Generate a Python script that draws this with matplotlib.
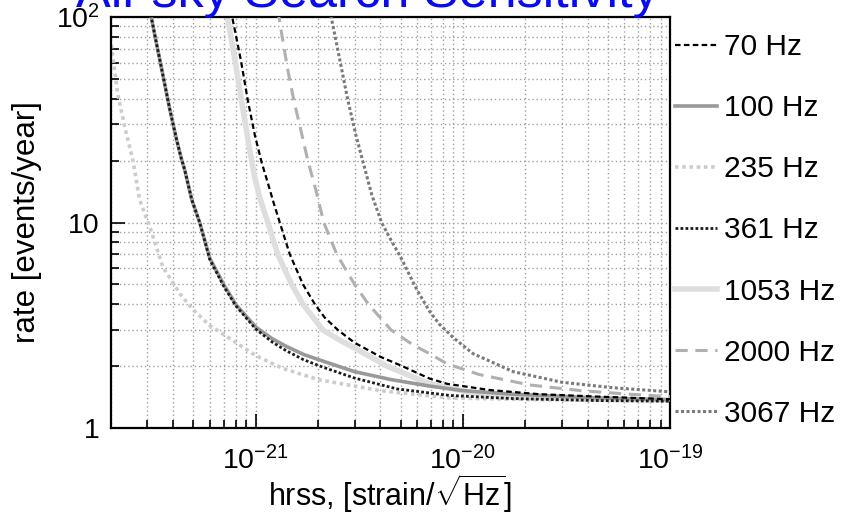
import matplotlib
matplotlib.use("Agg")
import matplotlib.pyplot as plt
import numpy as np
from matplotlib.ticker import FixedLocator, FixedFormatter, LogLocator, NullFormatter

plt.rcParams['font.family'] = ['Liberation Sans', 'DejaVu Sans']
plt.rcParams['mathtext.fontset'] = 'custom'
plt.rcParams['mathtext.rm'] = 'Liberation Sans'
plt.rcParams['mathtext.it'] = 'Liberation Sans'
plt.rcParams['mathtext.default'] = 'regular'

# hrss values in units of 1e-21 strain/sqrt(Hz), rate in events/year
h_70 = [0.757, 0.792, 0.847, 0.915, 0.989, 1.069, 1.143, 1.222, 1.306, 1.46, 1.69, 1.93,
        2.15, 2.49, 3.0, 4.0, 5.1, 6.9, 8.4, 13.5, 23.5, 46, 100]
r_70 = [108.2, 86.5, 61.8, 39.4, 26.7, 19.5, 15.6, 12.4, 10.0, 7.0, 5.0, 4.0,
        3.45, 3.0, 2.6, 2.22, 2.0, 1.74, 1.64, 1.53, 1.46, 1.42, 1.38]

h_100 = [0.308, 0.329, 0.356, 0.385, 0.415, 0.437, 0.454, 0.491, 0.536, 0.6, 0.7, 0.8,
         1.0, 1.2, 1.4, 1.7, 2.1, 3.0, 4.5, 6.9, 10, 17.5, 46, 100]
r_100 = [108.2, 77.3, 52.2, 35.3, 25.2, 20.5, 18.0, 12.9, 10.0, 6.7, 5.0, 4.0,
         3.1, 2.72, 2.5, 2.28, 2.12, 1.88, 1.72, 1.6, 1.52, 1.46, 1.40, 1.37]

h_235 = [0.201, 0.215, 0.233, 0.255, 0.275, 0.315, 0.356, 0.43, 0.5, 0.6, 0.7,
         1.0, 1.35, 2.0, 4.0, 8.65, 26.3, 100]
r_235 = [73.1, 42.7, 29.2, 20.1, 12.9, 8.89, 6.07, 4.5, 3.75, 3.15, 2.85,
         2.25, 1.95, 1.72, 1.52, 1.40, 1.37, 1.37]

h_361 = [0.308, 0.329, 0.356, 0.385, 0.415, 0.437, 0.454, 0.491, 0.536, 0.6, 0.7, 0.8,
         1.0, 1.2, 1.4, 1.7, 2.1, 3.0, 4.8, 8.65, 17.5, 46, 100]
r_361 = [108.2, 77.3, 52.2, 35.3, 25.2, 20.5, 18.0, 12.9, 10.0, 6.6, 4.9, 3.94,
         3.03, 2.62, 2.38, 2.15, 1.98, 1.75, 1.55, 1.44, 1.39, 1.36, 1.35]

h_1053 = [0.716, 0.741, 0.801, 0.865, 0.935, 0.989, 1.045, 1.143, 1.277, 1.49, 1.69,
          2.11, 2.5, 3.0, 4.3, 6.9, 11.2, 17.5, 36.7, 100]
r_1053 = [108.2, 91.4, 58.4, 36.1, 22.5, 16.5, 13.2, 10.0, 7.0, 5.0, 4.0,
          3.0, 2.7, 2.45, 2.0, 1.64, 1.48, 1.43, 1.38, 1.37]

h_2000 = [1.277, 1.349, 1.428, 1.526, 1.650, 1.782, 1.950, 2.13, 2.46, 3.0, 3.5,
          4.5, 5.7, 6.9, 8.4, 12, 21, 37, 64, 100]
r_2000 = [108.2, 77.3, 55.2, 39.4, 28.2, 20.1, 14.4, 10.0, 7.0, 5.0, 4.0,
          3.0, 2.55, 2.3, 2.05, 1.82, 1.62, 1.52, 1.46, 1.42]

h_3067 = [2.276, 2.408, 2.574, 2.783, 3.042, 3.324, 3.635, 4.05, 4.5, 5.0, 6.0,
          6.9, 7.7, 9.0, 11.2, 17.5, 30, 53, 100]
r_3067 = [108.2, 81.7, 58.4, 39.4, 26.7, 19.05, 13.6, 10.0, 8.2, 6.8, 4.7,
          3.7, 3.2, 2.75, 2.3, 1.88, 1.67, 1.57, 1.50]

labels = ['70 Hz', '100 Hz', '235 Hz', '361 Hz', '1053 Hz', '2000 Hz', '3067 Hz']
x_ticks = [1e-21, 1e-20, 1e-19]
x_ticklabels = ['$10^{-21}$', '$10^{-20}$', '$10^{-19}$']
y_ticks = [1, 10, 100]
y_ticklabels = ['1', '10', '$10^{2}$']

series = [(h_70, r_70), (h_100, r_100), (h_235, r_235), (h_361, r_361),
          (h_1053, r_1053), (h_2000, r_2000), (h_3067, r_3067)]
styles = [
    dict(color='black', lw=1.6, ls=(0, (2.5, 1.5))),
    dict(color='#999999', lw=2.6, ls='-'),
    dict(color='#cccccc', lw=2.6, ls=(0, (1, 1))),
    dict(color='#1a1a1a', lw=2.0, ls=(0, (1, 0.8))),
    dict(color='#dedede', lw=4.0, ls='-'),
    dict(color='#b0b0b0', lw=2.2, ls=(0, (4, 2.5))),
    dict(color='#7a7a7a', lw=2.2, ls=(0, (1, 0.8))),
]
zorders = [6, 3, 2, 5, 1, 4, 4]

fig = plt.figure(figsize=(8.46, 5.16), dpi=100)
ax = fig.add_axes([111/846, 1-428/516, (670-111)/846, (428-17)/516])

lines = []
for (h, r), st, lab, z in zip(series, styles, labels, zorders):
    ln, = ax.plot(np.array(h) * 1e-21, r, label=lab, zorder=z, **st)
    lines.append(ln)

ax.set_xscale('log')
ax.set_yscale('log')
ax.set_xlim(2.0e-22, 1e-19)
ax.set_ylim(1, 100)

ax.xaxis.set_major_locator(FixedLocator(x_ticks))
ax.xaxis.set_major_formatter(FixedFormatter(x_ticklabels))
ax.yaxis.set_major_locator(FixedLocator(y_ticks))
ax.yaxis.set_major_formatter(FixedFormatter(y_ticklabels))
ax.xaxis.set_minor_locator(LogLocator(base=10, subs=np.arange(2, 10)))
ax.yaxis.set_minor_locator(LogLocator(base=10, subs=np.arange(2, 10)))
ax.xaxis.set_minor_formatter(NullFormatter())
ax.yaxis.set_minor_formatter(NullFormatter())

ax.tick_params(which='both', direction='in', top=False, right=False, labelsize=20.5, width=1.2)
ax.tick_params(axis='x', which='major', length=10, pad=13)
ax.tick_params(axis='y', which='major', length=10, pad=8)
ax.tick_params(which='minor', length=6)
ax.grid(True, which='both', color='#a0a0a0', ls=(0, (1, 2)), lw=1.0, zorder=0)
ax.set_axisbelow(True)
for sp in ax.spines.values():
    sp.set_linewidth(1.6)

ax.set_xlabel('hrss, [strain/$\\sqrt{Hz}$]', fontsize=22, labelpad=-2)
ax.set_ylabel('rate [events/year]', fontsize=22.5, labelpad=10)

fig.text(0.434, 1 - 7/516, 'All-sky Search Sensitivity', color='#0a0af0',
         fontsize=37.5, ha='center', va='baseline')

fig.legend(handles=lines, labels=labels, loc='upper left',
           bbox_to_anchor=(675/846, 1 - 33/516), frameon=False, fontsize=21.5,
           handlelength=1.4, handletextpad=0.25, labelspacing=1.11, borderpad=0,
           borderaxespad=0)

fig.savefig('out.png', dpi=100)
